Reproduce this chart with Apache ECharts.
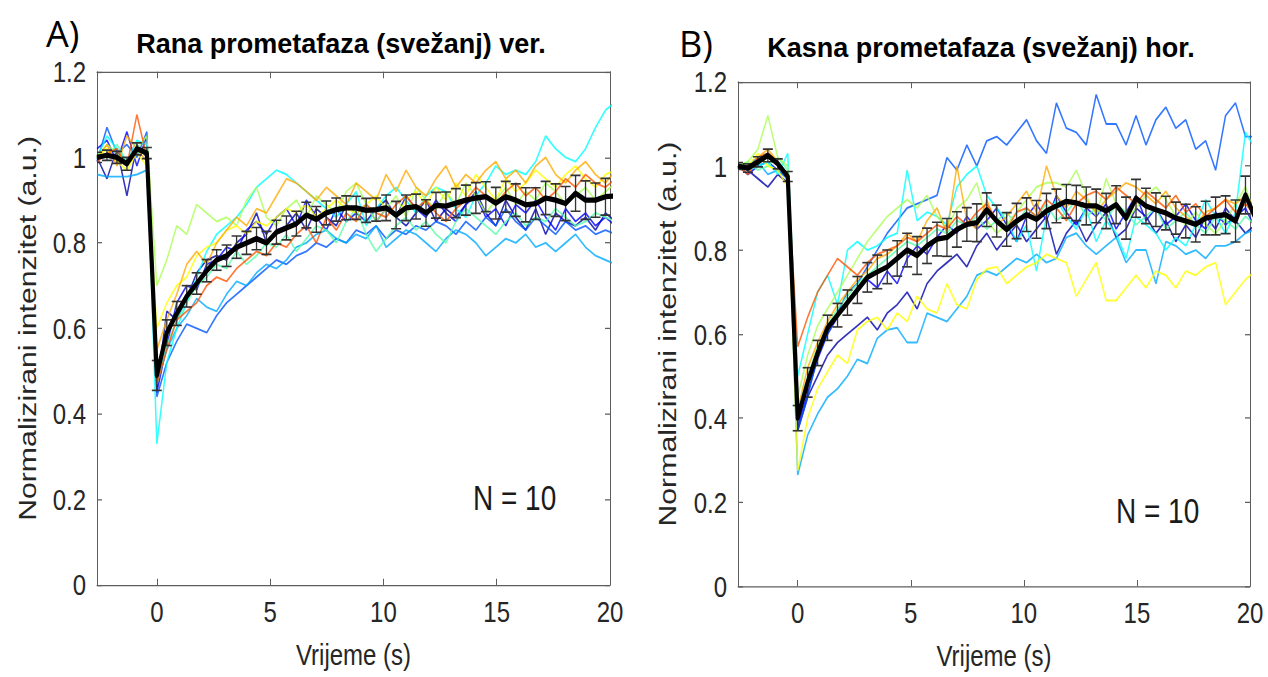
<!DOCTYPE html>
<html>
<head>
<meta charset="utf-8">
<script src="https://cdn.jsdelivr.net/npm/echarts@6/dist/echarts.min.js"></script>
<style>
  html, body { margin: 0; padding: 0; background: #fff; width: 1268px; height: 677px; overflow: hidden; }
  /* the plot figure is stretched vertically, headings sit on top unstretched */
  #plots { position: absolute; left: 0; top: 0; width: 1268px; height: 537px; transform: scaleY(1.2607); transform-origin: 0 0; }
  #heads { position: absolute; left: 0; top: 0; width: 1268px; height: 677px; pointer-events: none; }
</style>
</head>
<body>
<div id="plots"></div>
<div id="heads"></div>
<script>
// time after photobleaching (s), shared by both panels
const time = [-2.64,-2.20,-1.76,-1.32,-0.88,-0.44,
  0,0.44,0.88,1.32,1.76,2.20,2.64,3.08,3.52,3.96,
  4.40,4.84,5.28,5.72,6.16,6.60,7.04,7.48,7.92,8.36,
  8.80,9.24,9.68,10.12,10.56,11.00,11.44,11.88,12.32,12.76,
  13.20,13.64,14.08,14.52,14.96,15.40,15.84,16.28,16.72,17.16,
  17.60,18.04,18.48,18.92,19.36,19.80,20.24];

const xTicks = [0, 5, 10, 15, 20];
const cellColors = ['#0000aa','#0000ff','#0055ff','#00aaff','#00ffff','#55ffaa','#aaff55','#ffff00','#ffaa00','#ff5500'];

// A) early prometaphase, vertical bundle: single cells
const a1 = [1.00,0.95,1.02,0.91,1.03,1.00,
  0.46,0.64,0.62,0.67,0.73,0.76,0.77,0.76,0.80,0.82,
  0.87,0.80,0.83,0.84,0.87,0.83,0.88,0.86,0.84,0.89,
  0.87,0.85,0.88,0.90,0.86,0.84,0.87,0.90,0.85,0.88,
  0.86,0.89,0.92,0.87,0.84,0.90,0.86,0.83,0.88,0.82,
  0.87,0.85,0.84,0.86,0.83,0.87,0.85];
const a2 = [1.02,1.04,0.99,1.06,0.98,1.05,
  0.45,0.56,0.66,0.70,0.69,0.75,0.76,0.79,0.78,0.83,
  0.85,0.82,0.86,0.88,0.84,0.90,0.86,0.83,0.88,0.85,
  0.87,0.89,0.85,0.88,0.86,0.91,0.88,0.86,0.90,0.87,
  0.85,0.89,0.91,0.86,0.88,0.84,0.89,0.87,0.90,0.86,
  0.83,0.88,0.85,0.87,0.84,0.86,0.84];
const a3 = [0.99,1.07,1.01,1.03,1.00,1.06,
  0.44,0.52,0.57,0.61,0.60,0.59,0.63,0.66,0.68,0.70,
  0.72,0.74,0.76,0.75,0.77,0.78,0.80,0.79,0.81,0.80,
  0.83,0.82,0.84,0.81,0.83,0.82,0.84,0.83,0.85,0.84,
  0.82,0.85,0.83,0.86,0.84,0.88,0.85,0.83,0.86,0.84,
  0.82,0.85,0.83,0.84,0.82,0.83,0.82];
const a4 = [0.96,0.955,0.955,0.955,0.96,0.97,
  0.47,0.55,0.60,0.63,0.67,0.65,0.64,0.68,0.71,0.70,
  0.73,0.75,0.74,0.76,0.79,0.80,0.82,0.83,0.81,0.80,
  0.82,0.81,0.84,0.79,0.81,0.83,0.82,0.80,0.78,0.81,
  0.83,0.82,0.80,0.77,0.79,0.81,0.80,0.82,0.79,0.80,
  0.78,0.80,0.82,0.79,0.77,0.76,0.75];
const a5 = [1.00,1.05,1.02,0.99,1.04,1.03,
  0.33,0.52,0.60,0.66,0.72,0.78,0.82,0.84,0.86,0.89,
  0.93,0.95,0.97,0.96,0.94,0.92,0.90,0.88,0.86,0.89,
  0.92,0.84,0.88,0.91,0.93,0.90,0.87,0.91,0.93,0.92,
  0.88,0.86,0.91,0.94,0.98,0.96,0.97,0.96,0.99,1.05,
  1.02,1.00,0.99,1.02,1.07,1.11,1.13];
const a6 = [1.01,1.00,1.03,0.99,1.01,1.02,
  0.47,0.56,0.62,0.66,0.70,0.72,0.75,0.74,0.78,0.75,
  0.77,0.80,0.79,0.82,0.78,0.81,0.84,0.83,0.80,0.85,
  0.88,0.82,0.78,0.81,0.84,0.86,0.83,0.85,0.82,0.80,
  0.85,0.88,0.86,0.84,0.82,0.85,0.87,0.84,0.86,0.85,
  0.88,0.86,0.84,0.85,0.87,0.86,0.85];
const a7 = [1.00,1.03,1.01,0.98,1.02,1.05,
  0.70,0.76,0.84,0.82,0.89,0.87,0.85,0.86,0.84,0.90,
  0.93,0.86,0.84,0.88,0.90,0.86,0.91,0.89,0.87,0.92,
  0.94,0.89,0.85,0.88,0.91,0.86,0.93,0.90,0.88,0.92,
  0.89,0.94,0.91,0.87,0.90,0.93,0.89,0.92,0.90,0.94,
  0.92,0.89,0.91,0.93,0.90,0.92,0.94];
const a8 = [1.00,1.02,0.99,0.97,1.01,0.98,
  0.60,0.66,0.70,0.72,0.77,0.79,0.80,0.83,0.84,0.82,
  0.85,0.84,0.86,0.88,0.87,0.89,0.86,0.88,0.90,0.88,
  0.87,0.89,0.91,0.88,0.86,0.90,0.92,0.89,0.93,0.90,
  0.94,0.91,0.96,0.93,0.90,0.95,0.92,0.94,0.97,0.95,
  0.93,0.96,0.98,0.95,0.93,0.96,0.97];
const a9 = [1.00,1.03,0.98,1.05,1.02,0.99,
  0.55,0.62,0.68,0.75,0.78,0.75,0.80,0.83,0.86,0.84,
  0.88,0.87,0.91,0.95,0.94,0.92,0.90,0.93,0.91,0.89,
  0.94,0.92,0.90,0.96,0.92,0.97,0.93,0.91,0.95,0.98,
  0.93,0.96,0.94,0.97,0.99,0.95,0.97,0.94,0.98,1.00,
  0.96,0.94,0.97,0.99,0.96,0.94,0.97];
const a10 = [0.99,1.01,1.02,0.98,1.10,1.00,
  0.47,0.55,0.62,0.64,0.66,0.70,0.72,0.71,0.74,0.76,
  0.78,0.77,0.80,0.79,0.82,0.84,0.80,0.86,0.83,0.87,
  0.85,0.89,0.87,0.86,0.89,0.91,0.88,0.90,0.87,0.85,
  0.88,0.90,0.93,0.91,0.89,0.92,0.94,0.91,0.93,0.90,
  0.92,0.95,0.93,0.96,0.94,0.93,0.95];
// A) mean and its error
const aMean = [1.00,1.005,1.00,0.985,1.02,1.01,
  0.49,0.59,0.635,0.675,0.705,0.735,0.76,0.77,0.79,0.80,
  0.81,0.80,0.825,0.835,0.845,0.865,0.855,0.87,0.878,0.882,
  0.882,0.876,0.878,0.882,0.865,0.882,0.885,0.87,0.888,0.886,
  0.893,0.90,0.905,0.908,0.893,0.908,0.90,0.889,0.892,0.905,
  0.90,0.892,0.916,0.90,0.90,0.908,0.91];
const aErr = [0.012,0.012,0.014,0.015,0.014,0.013,
  0.035,0.03,0.028,0.025,0.025,0.026,0.024,0.025,0.026,0.027,
  0.026,0.027,0.028,0.028,0.029,0.03,0.03,0.028,0.027,0.028,
  0.027,0.028,0.027,0.03,0.032,0.03,0.029,0.031,0.03,0.033,
  0.034,0.035,0.036,0.035,0.037,0.036,0.038,0.04,0.037,0.039,
  0.038,0.04,0.042,0.045,0.04,0.043,0.042];

// B) late prometaphase, horizontal bundle: single cells
const b1 = [1.00,0.99,0.97,0.95,0.98,0.96,
  0.37,0.45,0.50,0.55,0.58,0.60,0.62,0.64,0.61,0.65,
  0.67,0.70,0.66,0.72,0.75,0.77,0.79,0.76,0.81,0.84,
  0.80,0.83,0.86,0.82,0.85,0.88,0.79,0.84,0.87,0.82,
  0.86,0.89,0.83,0.85,0.90,0.88,0.84,0.87,0.82,0.86,
  0.83,0.88,0.85,0.90,0.87,0.84,0.86];
const b2 = [1.00,0.98,1.00,1.01,0.99,0.97,
  0.38,0.46,0.54,0.60,0.64,0.68,0.70,0.73,0.71,0.75,
  0.72,0.78,0.81,0.79,0.83,0.86,0.84,0.88,0.85,0.87,
  0.90,0.86,0.82,0.88,0.91,0.87,0.93,0.89,0.86,0.90,
  0.88,0.91,0.85,0.89,0.93,0.87,0.90,0.86,0.88,0.91,
  0.87,0.85,0.89,0.86,0.88,0.90,0.85];
const b3 = [1.00,1.00,1.02,1.03,1.01,0.98,
  0.37,0.45,0.55,0.60,0.65,0.70,0.72,0.76,0.80,0.84,
  0.87,0.90,0.91,0.92,0.93,1.02,0.99,1.05,1.00,1.06,
  1.07,1.05,1.08,1.11,1.06,1.03,1.15,1.09,1.08,1.05,
  1.17,1.10,1.10,1.05,1.12,1.05,1.11,1.14,1.09,1.11,
  1.04,1.06,0.99,1.12,1.15,1.07,1.07];
const b4 = [1.00,0.99,1.01,0.98,0.99,0.97,
  0.265,0.36,0.41,0.45,0.47,0.50,0.54,0.53,0.59,0.61,
  0.615,0.58,0.58,0.65,0.64,0.63,0.66,0.69,0.74,0.75,
  0.74,0.76,0.78,0.77,0.79,0.77,0.78,0.83,0.84,0.81,
  0.79,0.81,0.83,0.77,0.80,0.80,0.72,0.82,0.81,0.79,
  0.80,0.78,0.81,0.81,0.82,0.84,0.85];
const b5 = [1.00,0.99,1.00,1.01,0.98,1.03,
  0.50,0.60,0.70,0.74,0.67,0.80,0.82,0.80,0.81,0.83,
  0.84,0.99,0.87,0.89,0.88,0.86,0.95,0.98,1.00,0.93,
  0.90,0.87,0.82,0.86,0.75,0.88,0.92,0.88,0.85,0.90,
  0.82,0.87,0.84,0.78,0.88,0.86,0.84,0.80,0.83,0.81,
  0.86,0.92,0.88,0.84,0.89,1.08,1.04];
const b6 = [1.00,1.01,0.99,1.00,1.02,0.99,
  0.42,0.50,0.57,0.62,0.66,0.69,0.72,0.74,0.76,0.78,
  0.80,0.82,0.81,0.83,0.85,0.84,0.87,0.86,0.88,0.85,
  0.87,0.89,0.86,0.90,0.88,0.91,0.87,0.89,0.92,0.88,
  0.90,0.87,0.91,0.89,0.86,0.88,0.90,0.85,0.87,0.89,
  0.86,0.84,0.88,0.87,0.85,0.88,0.86];
const b7 = [1.00,1.01,1.04,1.12,1.02,1.00,
  0.45,0.55,0.62,0.66,0.70,0.74,0.78,0.82,0.85,0.88,
  0.90,0.92,0.90,0.93,0.88,0.85,0.90,0.92,0.96,0.87,
  0.84,0.86,0.89,0.92,0.95,0.96,0.96,0.95,0.99,0.93,
  0.88,0.97,0.91,0.87,0.90,0.93,0.95,0.92,0.88,0.86,
  0.89,0.86,0.84,0.87,0.91,0.95,0.88];
const b8 = [1.00,1.00,1.03,1.00,0.99,0.95,
  0.275,0.40,0.47,0.51,0.55,0.53,0.61,0.63,0.64,0.61,
  0.65,0.63,0.69,0.66,0.65,0.72,0.67,0.66,0.73,0.755,
  0.76,0.72,0.74,0.76,0.77,0.79,0.78,0.77,0.69,0.73,
  0.77,0.68,0.68,0.71,0.74,0.71,0.75,0.74,0.71,0.75,
  0.74,0.76,0.77,0.67,0.70,0.73,0.75];
const b9 = [1.00,0.99,1.02,1.04,1.01,0.97,
  0.42,0.52,0.58,0.63,0.67,0.70,0.73,0.75,0.78,0.79,
  0.81,0.84,0.82,0.87,0.90,0.84,1.00,0.87,0.85,0.92,
  0.86,0.88,0.91,0.94,0.89,1.00,0.93,0.90,0.94,0.92,
  0.89,0.92,0.94,0.96,0.95,0.93,0.91,0.94,0.90,0.88,
  0.86,0.89,0.90,0.92,0.91,0.93,0.90];
const b10 = [1.00,0.98,1.02,1.03,1.01,0.97,
  0.57,0.64,0.70,0.74,0.78,0.76,0.74,0.77,0.79,0.80,
  0.81,0.83,0.82,0.84,0.86,0.85,0.88,0.86,0.89,0.91,
  0.87,0.85,0.89,0.90,0.88,0.92,0.90,0.87,0.91,0.93,
  0.94,0.92,0.95,0.93,0.91,0.94,0.92,0.90,0.93,0.89,
  0.91,0.88,0.90,0.92,0.89,0.91,0.88];
// B) mean and its error
const bMean = [1.00,0.995,1.01,1.025,1.005,0.975,
  0.40,0.485,0.555,0.615,0.645,0.675,0.705,0.735,0.748,0.76,
  0.78,0.80,0.787,0.81,0.826,0.83,0.849,0.861,0.865,0.896,
  0.869,0.849,0.869,0.884,0.873,0.893,0.905,0.916,0.912,0.905,
  0.905,0.893,0.908,0.876,0.923,0.905,0.896,0.888,0.876,0.869,
  0.861,0.876,0.881,0.884,0.869,0.931,0.876];
const bErr = [0.008,0.01,0.012,0.015,0.012,0.012,
  0.03,0.035,0.03,0.03,0.028,0.03,0.032,0.035,0.04,0.04,
  0.042,0.04,0.045,0.042,0.04,0.045,0.042,0.04,0.045,0.04,
  0.038,0.04,0.042,0.04,0.045,0.042,0.04,0.04,0.042,0.045,
  0.04,0.042,0.045,0.05,0.045,0.042,0.04,0.04,0.038,0.04,
  0.042,0.04,0.045,0.045,0.05,0.045,0.04];

const cellsA = [a1, a2, a3, a4, a5, a6, a7, a8, a9, a10];
const cellsB = [b1, b2, b3, b4, b5, b6, b7, b8, b9, b10];

const FONT = '"Liberation Sans", Arial, sans-serif';
const AXIS = '#5e5e5e';
const TEXT = '#262626';

const grids = [
  { left: 97, top: 57, width: 513, height: 407 },
  { left: 738, top: 65, width: 512, height: 406 }
];

function xAxes(g) {
  const base = {
    type: 'value', gridIndex: g, min: -2.64, max: 20,
    splitLine: { show: false },
    axisLine: { show: true, onZero: false, lineStyle: { color: AXIS, width: 1 } },
    axisTick: { show: true, inside: true, length: 5, customValues: xTicks, lineStyle: { color: AXIS } }
  };
  return [
    Object.assign({}, base, {
      position: 'bottom',
      axisLabel: { customValues: xTicks, fontSize: 24, color: TEXT, fontFamily: FONT, margin: 9 },
      name: 'Vrijeme (s)', nameLocation: 'middle', nameGap: 43,
      nameTextStyle: { fontSize: 24, color: TEXT, fontFamily: FONT }
    }),
    Object.assign({}, base, { position: 'top', axisLabel: { show: false } })
  ];
}

function yAxes(g, gap) {
  const base = {
    type: 'value', gridIndex: g, min: 0, max: 1.2, interval: 0.2,
    splitLine: { show: false },
    axisLine: { show: true, onZero: false, lineStyle: { color: AXIS, width: 1 } },
    axisTick: { show: true, inside: true, length: 5, lineStyle: { color: AXIS } }
  };
  return [
    Object.assign({}, base, {
      position: 'left',
      axisLabel: { fontSize: 24, color: TEXT, fontFamily: FONT, margin: 11 },
      name: 'Normalizirani intenzitet (a.u.)', nameLocation: 'middle', nameGap: gap,
      nameTextStyle: { fontSize: 24, color: TEXT, fontFamily: FONT }
    }),
    Object.assign({}, base, { position: 'right', axisLabel: { show: false } })
  ];
}

function panelSeries(cells, mean, err, xi, yi) {
  const out = [];
  cells.forEach(function (vals, c) {
    out.push({
      type: 'line', xAxisIndex: xi, yAxisIndex: yi, z: 2,
      data: time.map(function (t, i) { return [t, vals[i]]; }),
      symbol: 'none', showSymbol: false, silent: true, clip: true,
      lineStyle: { width: 1.5, color: cellColors[c], opacity: 0.8 }
    });
  });
  out.push({
    type: 'custom', xAxisIndex: xi, yAxisIndex: yi, z: 3, clip: true, silent: true,
    data: time.map(function (t, i) { return [t, mean[i] - err[i], mean[i] + err[i]]; }),
    encode: { x: 0, y: [1, 2] },
    renderItem: function (params, api) {
      const lo = api.coord([api.value(0), api.value(1)]);
      const hi = api.coord([api.value(0), api.value(2)]);
      const w = 5;
      const st = { stroke: '#333333', lineWidth: 1.3 };
      return {
        type: 'group',
        children: [
          { type: 'line', shape: { x1: lo[0], y1: lo[1], x2: hi[0], y2: hi[1] }, style: st },
          { type: 'line', shape: { x1: lo[0] - w, y1: lo[1], x2: lo[0] + w, y2: lo[1] }, style: st },
          { type: 'line', shape: { x1: hi[0] - w, y1: hi[1], x2: hi[0] + w, y2: hi[1] }, style: st }
        ]
      };
    }
  });
  out.push({
    type: 'line', xAxisIndex: xi, yAxisIndex: yi, z: 4,
    data: time.map(function (t, i) { return [t, mean[i]]; }),
    symbol: 'none', showSymbol: false, silent: true, clip: true,
    lineStyle: { width: 4.2, color: '#000', join: 'round' }
  });
  return out;
}

const xA = xAxes(0), xB = xAxes(1);
const yA = yAxes(0, 57), yB = yAxes(1, 58);

const plots = echarts.init(document.getElementById('plots'), null, { renderer: 'svg' });
plots.setOption({
  animation: false,
  backgroundColor: 'transparent',
  grid: grids,
  xAxis: [xA[0], xA[1], xB[0], xB[1]],
  yAxis: [yA[0], yA[1], yB[0], yB[1]],
  series: panelSeries(cellsA, aMean, aErr, 0, 0).concat(panelSeries(cellsB, bMean, bErr, 2, 2)),
  graphic: [
    { type: 'text', x: 473, y: 395, style: { text: 'N = 10', font: '28px ' + FONT, fill: '#1a1a1a', textVerticalAlign: 'middle', verticalAlign: 'middle' } },
    { type: 'text', x: 1116, y: 405, style: { text: 'N = 10', font: '28px ' + FONT, fill: '#1a1a1a', textVerticalAlign: 'middle', verticalAlign: 'middle' } }
  ]
});

const heads = echarts.init(document.getElementById('heads'), null, { renderer: 'svg' });
heads.setOption({
  animation: false,
  backgroundColor: 'transparent',
  graphic: [
    { type: 'text', x: 46, y: 33, style: { text: 'A)', font: '36px "Open Sans", sans-serif', fill: '#000', textVerticalAlign: 'middle', verticalAlign: 'middle' } },
    { type: 'text', x: 341, y: 44, style: { text: 'Rana prometafaza (svežanj) ver.', font: 'bold 27px ' + FONT, fill: '#000', textAlign: 'center', align: 'center', textVerticalAlign: 'middle', verticalAlign: 'middle' } },
    { type: 'text', x: 679, y: 43, style: { text: 'B)', font: '36px "Open Sans", sans-serif', fill: '#000', textVerticalAlign: 'middle', verticalAlign: 'middle' } },
    { type: 'text', x: 981, y: 48, style: { text: 'Kasna prometafaza (svežanj) hor.', font: 'bold 27px ' + FONT, fill: '#000', textAlign: 'center', align: 'center', textVerticalAlign: 'middle', verticalAlign: 'middle' } }
  ]
});
</script>
</body>
</html>
